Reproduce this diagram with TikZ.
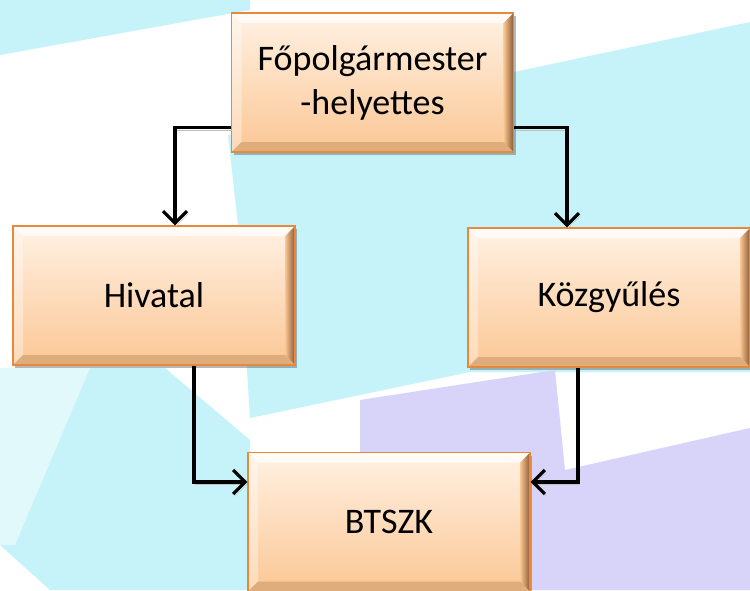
\documentclass[tikz,border=0pt]{standalone}
\usepackage{fontspec}
\setmainfont{Carlito}
\usetikzlibrary{arrows.meta,calc,shadows}

\definecolor{bgcyan}{HTML}{C6F3F9}
\definecolor{bglav}{HTML}{D8D3F8}
\definecolor{bgpale}{HTML}{E2F9FB}
\definecolor{boxtop}{HTML}{FFF1E3}
\definecolor{boxbot}{HTML}{FBC795}
\definecolor{boxedge}{HTML}{E8883A}
\definecolor{boxdark}{HTML}{8A5A32}

\tikzset{
  orgbox/.style={draw=boxedge, line width=1.2pt, minimum width=282pt, minimum height=139pt,
    inner sep=0pt, top color=boxtop, bottom color=boxbot, align=center,
    font=\fontsize{36}{44}\selectfont,
    drop shadow={shadow xshift=2pt, shadow yshift=-3pt, opacity=0.4, fill=black!70},
    path picture={
      \coordinate (pnw) at (path picture bounding box.north west);
      \coordinate (pne) at (path picture bounding box.north east);
      \coordinate (psw) at (path picture bounding box.south west);
      \coordinate (pse) at (path picture bounding box.south east);
      \fill[white, opacity=0.75] (pnw) -- (pne) -- ++(-10pt,-10pt) -- ($(pnw)+(10pt,-10pt)$) -- cycle;
      \fill[white, opacity=0.35] (pnw) -- (psw) -- ++(10pt,10pt) -- ($(pnw)+(10pt,-10pt)$) -- cycle;
      \shade[left color=boxbot, right color=boxdark] (pne) -- (pse) -- ++(-10pt,10pt) -- ($(pne)+(-10pt,-10pt)$) -- cycle;
      \fill[boxbot!75!boxdark] (psw) -- (pse) -- ++(-10pt,10pt) -- ($(psw)+(10pt,10pt)$) -- cycle;
    }},
  link/.style={line width=3.2pt, -{Straight Barb[length=12pt,width=24pt,line width=3.2pt]},
    preaction={draw=black!25, transform canvas={shift={(1.5pt,-2.5pt)}}}}
}

\begin{document}
\begin{tikzpicture}[x=1pt, y=-1pt]
  \useasboundingbox (0,0) rectangle (750,590);
  \clip (0,0) rectangle (750,590);

  % background
  \fill[white] (0,0) rectangle (750,590);
  \fill[bgcyan] (0,0) -- (250,0) -- (250,10) -- (0,55) -- cycle;
  \fill[bgcyan] (228,135) -- (514,72) -- (750,22) -- (750,372) -- (470,372) -- (250,418) -- (238,225) -- cycle;
  \fill[bglav] (360,400) -- (555,370) -- (565,470) -- (750,428) -- (750,590) -- (360,590) -- cycle;
  \fill[bgcyan] (0,368) -- (165,368) -- (250,440) -- (250,590) -- (50,590) -- (0,545) -- cycle;
  \fill[bgpale] (0,368) -- (90,368) -- (15,545) -- (0,545) -- cycle;

  % boxes
  \node[orgbox] (fopolg) at (372.5,82.5) {Főpolgármester\\-helyettes};
  \node[orgbox] (hivatal) at (154,295.5) {Hivatal};
  \node[orgbox] (kozgy) at (609,297.5) {Közgyűlés};
  \node[orgbox] (btszk) at (389,522) {BTSZK};

  % connectors
  \draw[link] ($(fopolg.west)+(0,45)$) -| ($(hivatal.north)+(21,0)$);
  \draw[link] ($(fopolg.east)+(0,45)$) -| ($(kozgy.north)+(-42,0)$);
  \draw[link] ($(hivatal.south)+(40,0)$) |- ($(btszk.west)+(0,-40)$);
  \draw[link] ($(kozgy.south)+(-31,0)$) |- ($(btszk.east)+(0,-40)$);
\end{tikzpicture}
\end{document}
